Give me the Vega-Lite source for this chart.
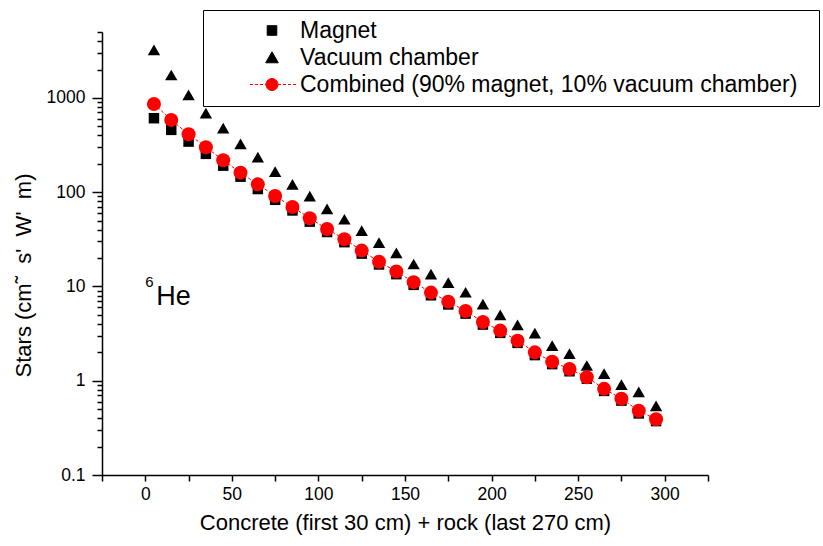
{
  "$schema": "https://vega.github.io/schema/vega-lite/v6.json",
  "width": 606,
  "height": 443,
  "autosize": {"type": "none"},
  "padding": {"left": 102, "top": 32, "right": 115, "bottom": 71},
  "background": "white",
  "config": {
    "view": {"stroke": null},
    "font": "Liberation Sans",
    "axis": {
      "domainColor": "#000000", "domainWidth": 1.5, "tickColor": "#000000", "tickWidth": 1.5,
      "labelFont": "Liberation Sans", "labelFontSize": 17.5, "labelColor": "#000000",
      "titleFont": "Liberation Sans", "titleFontSize": 22, "titleFontWeight": "normal", "titleColor": "#000000",
      "grid": false
    },
    "legend": {"strokeWidth": 1}
  },
  "resolve": {"scale": {"shape": "independent", "fill": "independent", "stroke": "independent"}},
  "datasets": {
    "stars": [
      {"d":5,"s":"Magnet","v":609},{"d":15,"s":"Magnet","v":458},{"d":25,"s":"Magnet","v":344},{"d":35,"s":"Magnet","v":255},{"d":45,"s":"Magnet","v":191},{"d":55,"s":"Magnet","v":146},{"d":65,"s":"Magnet","v":108},{"d":75,"s":"Magnet","v":83},{"d":85,"s":"Magnet","v":64},{"d":95,"s":"Magnet","v":48.7},{"d":105,"s":"Magnet","v":37.8},{"d":115,"s":"Magnet","v":29.5},{"d":125,"s":"Magnet","v":22.3},{"d":135,"s":"Magnet","v":17.1},{"d":145,"s":"Magnet","v":13.5},{"d":155,"s":"Magnet","v":10.4},{"d":165,"s":"Magnet","v":8.06},{"d":175,"s":"Magnet","v":6.44},{"d":185,"s":"Magnet","v":5.15},{"d":195,"s":"Magnet","v":3.94},{"d":205,"s":"Magnet","v":3.22},{"d":215,"s":"Magnet","v":2.52},{"d":225,"s":"Magnet","v":1.87},{"d":235,"s":"Magnet","v":1.5},{"d":245,"s":"Magnet","v":1.26},{"d":255,"s":"Magnet","v":1.05},{"d":265,"s":"Magnet","v":0.78},{"d":275,"s":"Magnet","v":0.615},{"d":285,"s":"Magnet","v":0.45},{"d":295,"s":"Magnet","v":0.373},
      {"d":5,"s":"Vacuum chamber","v":3230},{"d":15,"s":"Vacuum chamber","v":1750},{"d":25,"s":"Vacuum chamber","v":1075},{"d":35,"s":"Vacuum chamber","v":690},{"d":45,"s":"Vacuum chamber","v":477},{"d":55,"s":"Vacuum chamber","v":325},{"d":65,"s":"Vacuum chamber","v":235},{"d":75,"s":"Vacuum chamber","v":165},{"d":85,"s":"Vacuum chamber","v":121},{"d":95,"s":"Vacuum chamber","v":91},{"d":105,"s":"Vacuum chamber","v":66.4},{"d":115,"s":"Vacuum chamber","v":51.6},{"d":125,"s":"Vacuum chamber","v":39.1},{"d":135,"s":"Vacuum chamber","v":29.2},{"d":145,"s":"Vacuum chamber","v":22.7},{"d":155,"s":"Vacuum chamber","v":17.3},{"d":165,"s":"Vacuum chamber","v":13.5},{"d":175,"s":"Vacuum chamber","v":11.0},{"d":185,"s":"Vacuum chamber","v":8.68},{"d":195,"s":"Vacuum chamber","v":6.5},{"d":205,"s":"Vacuum chamber","v":5.0},{"d":215,"s":"Vacuum chamber","v":3.91},{"d":225,"s":"Vacuum chamber","v":3.19},{"d":235,"s":"Vacuum chamber","v":2.36},{"d":245,"s":"Vacuum chamber","v":1.94},{"d":255,"s":"Vacuum chamber","v":1.45},{"d":265,"s":"Vacuum chamber","v":1.19},{"d":275,"s":"Vacuum chamber","v":0.91},{"d":285,"s":"Vacuum chamber","v":0.76},{"d":295,"s":"Vacuum chamber","v":0.54},
      {"d":5,"s":"Combined (90% magnet, 10% vacuum chamber)","v":863},{"d":15,"s":"Combined (90% magnet, 10% vacuum chamber)","v":584},{"d":25,"s":"Combined (90% magnet, 10% vacuum chamber)","v":412},{"d":35,"s":"Combined (90% magnet, 10% vacuum chamber)","v":300},{"d":45,"s":"Combined (90% magnet, 10% vacuum chamber)","v":218},{"d":55,"s":"Combined (90% magnet, 10% vacuum chamber)","v":161},{"d":65,"s":"Combined (90% magnet, 10% vacuum chamber)","v":121},{"d":75,"s":"Combined (90% magnet, 10% vacuum chamber)","v":91.2},{"d":85,"s":"Combined (90% magnet, 10% vacuum chamber)","v":69.7},{"d":95,"s":"Combined (90% magnet, 10% vacuum chamber)","v":52.9},{"d":105,"s":"Combined (90% magnet, 10% vacuum chamber)","v":40.7},{"d":115,"s":"Combined (90% magnet, 10% vacuum chamber)","v":31.7},{"d":125,"s":"Combined (90% magnet, 10% vacuum chamber)","v":24.0},{"d":135,"s":"Combined (90% magnet, 10% vacuum chamber)","v":18.3},{"d":145,"s":"Combined (90% magnet, 10% vacuum chamber)","v":14.4},{"d":155,"s":"Combined (90% magnet, 10% vacuum chamber)","v":11.1},{"d":165,"s":"Combined (90% magnet, 10% vacuum chamber)","v":8.6},{"d":175,"s":"Combined (90% magnet, 10% vacuum chamber)","v":6.9},{"d":185,"s":"Combined (90% magnet, 10% vacuum chamber)","v":5.5},{"d":195,"s":"Combined (90% magnet, 10% vacuum chamber)","v":4.2},{"d":205,"s":"Combined (90% magnet, 10% vacuum chamber)","v":3.4},{"d":215,"s":"Combined (90% magnet, 10% vacuum chamber)","v":2.66},{"d":225,"s":"Combined (90% magnet, 10% vacuum chamber)","v":2.0},{"d":235,"s":"Combined (90% magnet, 10% vacuum chamber)","v":1.59},{"d":245,"s":"Combined (90% magnet, 10% vacuum chamber)","v":1.33},{"d":255,"s":"Combined (90% magnet, 10% vacuum chamber)","v":1.09},{"d":265,"s":"Combined (90% magnet, 10% vacuum chamber)","v":0.82},{"d":275,"s":"Combined (90% magnet, 10% vacuum chamber)","v":0.645},{"d":285,"s":"Combined (90% magnet, 10% vacuum chamber)","v":0.48},{"d":295,"s":"Combined (90% magnet, 10% vacuum chamber)","v":0.39}
    ],
    "he": [{"x": 6.4, "y": 6.37, "t": "He"}],
    "six": [{"x": 0, "y": 9.9, "t": "6"}]
  },
  "layer": [
    {
      "data": {"name": "stars"},
      "transform": [{"filter": "datum.s === 'Combined (90% magnet, 10% vacuum chamber)'"}],
      "mark": {"type": "line", "color": "#ff0000", "strokeWidth": 1, "strokeDash": [3, 2]},
      "encoding": {
        "x": {
          "field": "d", "type": "quantitative",
          "scale": {"domain": [-25, 325], "nice": false, "zero": false},
          "axis": {
            "title": "Concrete (first 30 cm) + rock (last 270 cm)",
            "values": [-25, 0, 25, 50, 75, 100, 125, 150, 175, 200, 225, 250, 275, 300, 325],
            "labelExpr": "datum.value % 50 === 0 ? datum.label : ''",
            "tickSize": 6, "labelPadding": 4, "titlePadding": 10, "labelFlush": false, "labelOverlap": false
          }
        },
        "y": {
          "field": "v", "type": "quantitative",
          "scale": {"type": "log", "domain": [0.1, 5000], "nice": false},
          "axis": {
            "title": "Stars (cm˜\u00a0 s'\u00a0 W'\u00a0 m)",
            "values": [0.1,0.2,0.3,0.4,0.5,0.6,0.7,0.8,0.9,1,2,3,4,5,6,7,8,9,10,20,30,40,50,60,70,80,90,100,200,300,400,500,600,700,800,900,1000,2000,3000,4000,5000],
            "format": "~g",
            "labelExpr": "indexof([0.1, 1, 10, 100, 1000], datum.value) >= 0 ? datum.label : ''",
            "tickSize": {"condition": {"test": "indexof([0.1, 1, 10, 100, 1000], datum.value) >= 0", "value": 10}, "value": 5},
            "labelPadding": 7, "labelOverlap": false, "labelFlush": false,
            "titleX": -79, "titleY": 243, "titleAngle": -90, "titleBaseline": "middle", "titleAlign": "center"
          }
        }
      }
    },
    {
      "data": {"name": "stars"},
      "mark": {"type": "point", "filled": true, "opacity": 1},
      "encoding": {
        "x": {"field": "d", "type": "quantitative"},
        "y": {"field": "v", "type": "quantitative"},
        "color": {
          "field": "s", "type": "nominal",
          "scale": {"domain": ["Magnet", "Vacuum chamber", "Combined (90% magnet, 10% vacuum chamber)"], "range": ["#000000", "#000000", "#ff0000"]},
          "legend": null
        },
        "shape": {
          "field": "s", "type": "nominal",
          "scale": {"domain": ["Magnet", "Vacuum chamber", "Combined (90% magnet, 10% vacuum chamber)"], "range": ["square", "triangle-up", "circle"]},
          "legend": null
        },
        "size": {
          "field": "s", "type": "nominal",
          "scale": {"domain": ["Magnet", "Vacuum chamber", "Combined (90% magnet, 10% vacuum chamber)"], "range": [110, 196, 156]},
          "legend": null
        }
      }
    },
    {
      "data": {"name": "stars"},
      "transform": [{"filter": "datum.d < 0"}],
      "mark": {"type": "point", "filled": true, "strokeWidth": 1},
      "encoding": {
        "fill": {
          "field": "s", "type": "nominal",
          "scale": {"domain": ["Magnet", "Vacuum chamber", "Combined (90% magnet, 10% vacuum chamber)"], "range": ["#000000", "#000000", "#ff0000"]},
          "legend": {
            "title": " ", "titleOrient": "right", "titlePadding": 13, "titleFontSize": 23,
            "orient": "none", "legendX": 101, "legendY": -22,
            "padding": 9, "strokeColor": "#000000",
            "symbolSize": 144, "symbolOffset": 48.5, "labelOffset": 16.5, "symbolOpacity": 1, "symbolStrokeWidth": 1,
            "labelFont": "Liberation Sans", "labelFontSize": 23, "labelColor": "#000000", "labelLimit": 0,
            "rowPadding": 3
          }
        },
        "stroke": {
          "field": "s", "type": "nominal",
          "scale": {"domain": ["Magnet", "Vacuum chamber", "Combined (90% magnet, 10% vacuum chamber)"], "range": ["#000000", "#000000", "#ff0000"]},
          "legend": {
            "title": " ", "titleOrient": "right", "titlePadding": 13, "titleFontSize": 23,
            "orient": "none", "legendX": 101, "legendY": -22,
            "padding": 9, "strokeColor": "#000000",
            "symbolSize": 144, "symbolOffset": 48.5, "labelOffset": 16.5, "symbolOpacity": 1, "symbolStrokeWidth": 1,
            "labelFont": "Liberation Sans", "labelFontSize": 23, "labelColor": "#000000", "labelLimit": 0,
            "rowPadding": 3
          }
        },
        "shape": {
          "field": "s", "type": "nominal",
          "scale": {"domain": ["Magnet", "Vacuum chamber", "Combined (90% magnet, 10% vacuum chamber)"], "range": ["M-0.8,-0.8H0.8V0.8H-0.8Z", "M0,-0.95L1.05,0.88L-1.05,0.88Z", "M-3.67,0H-3.17M-2.83,0H-2.33M-2,0H-1.5M-1.17,0H-1M1,0H1.5M1.83,0H2.33M2.67,0H3.17M3.5,0H4M-1,0A1,1,0,1,1,1,0A1,1,0,1,1,-1,0Z"]},
          "legend": {
            "title": " ", "titleOrient": "right", "titlePadding": 13, "titleFontSize": 23,
            "orient": "none", "legendX": 101, "legendY": -22,
            "padding": 9, "strokeColor": "#000000",
            "symbolSize": 144, "symbolOffset": 48.5, "labelOffset": 16.5, "symbolOpacity": 1, "symbolStrokeWidth": 1,
            "labelFont": "Liberation Sans", "labelFontSize": 23, "labelColor": "#000000", "labelLimit": 0,
            "rowPadding": 3
          }
        }
      }
    },
    {
      "data": {"name": "he"},
      "mark": {"type": "text", "font": "Liberation Sans", "fontSize": 27, "align": "left", "baseline": "alphabetic", "color": "#000000"},
      "encoding": {
        "x": {"field": "x", "type": "quantitative"},
        "y": {"field": "y", "type": "quantitative"},
        "text": {"field": "t"}
      }
    },
    {
      "data": {"name": "six"},
      "mark": {"type": "text", "font": "Liberation Sans", "fontSize": 15, "align": "left", "baseline": "alphabetic", "color": "#000000"},
      "encoding": {
        "x": {"field": "x", "type": "quantitative"},
        "y": {"field": "y", "type": "quantitative"},
        "text": {"field": "t"}
      }
    }
  ]
}
